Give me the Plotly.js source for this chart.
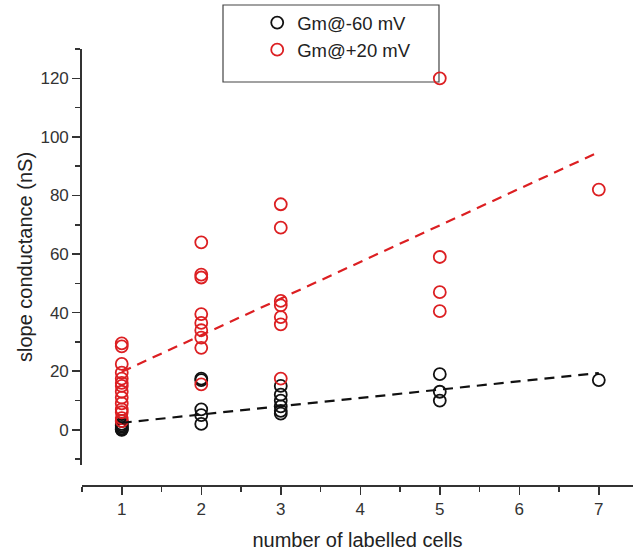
<!DOCTYPE html>
<html>
<head>
<meta charset="utf-8">
<script src="https://cdn.plot.ly/plotly-3.0.1.min.js"></script>
<style>html,body{margin:0;padding:0;background:#fff;}</style>
</head>
<body>
<div id="chart" style="width:633px;height:552px;"></div>
<script>
// ---- data ----
const seriesNames = ["Gm@-60 mV", "Gm@+20 mV"];

const blackX = [1,1,1,1,1,1,1, 2,2,2,2,2, 3,3,3,3,3,3, 5,5,5, 7];
const blackY = [3,2,1.5,1,0.5,0.2,0, 17.5,17,7,5,2, 15,12,10,8,6.5,5.5, 19,13,10, 17];

const redX = [1,1,1,1,1,1,1,1,1,1,1,1,1,1, 2,2,2,2,2,2,2,2,2, 3,3,3,3,3,3,3, 5,5,5,5, 7];
const redY = [29.5,28.5,22.5,19.5,17.5,16,15,13,11,9,7,6,4,3,
              64,53,52,39.5,36.5,34,31.5,28,15.5,
              77,69,44,42.5,38.5,36,17.5,
              120,59,47,40.5, 82];

const fitX = [1, 7];
const blackFit = [2.4, 19.4];
const redFit = [19.8, 94.8];

const xTickVals = [1,2,3,4,5,6,7];
const yTickVals = [0,20,40,60,80,100,120];

const RED = "#dc1f22";
const BLACK = "#111111";

const traces = [
  {x: blackX, y: blackY, type: "scatter", mode: "markers", name: seriesNames[0],
   marker: {symbol: "circle-open", size: 12, color: BLACK, line: {width: 1.8, color: BLACK}}},
  {x: redX, y: redY, type: "scatter", mode: "markers", name: seriesNames[1],
   marker: {symbol: "circle-open", size: 12, color: RED, line: {width: 1.8, color: RED}}},
  {x: fitX, y: blackFit, type: "scatter", mode: "lines", showlegend: false,
   line: {color: BLACK, width: 2.2, dash: "10px,7px"}, hoverinfo: "skip"},
  {x: fitX, y: redFit, type: "scatter", mode: "lines", showlegend: false,
   line: {color: RED, width: 2.2, dash: "10px,7px"}, hoverinfo: "skip"}
];

const fontFam = "Liberation Sans, Arial, sans-serif";

const layout = {
  width: 633, height: 552,
  margin: {l: 82, r: 0, t: 49, b: 67, pad: 0},
  paper_bgcolor: "#fff", plot_bgcolor: "#fff",
  font: {family: fontFam, color: "#222"},
  showlegend: true,
  legend: {
    x: 0.318, y: 1.103, xanchor: "left", yanchor: "top",
    bgcolor: "rgba(0,0,0,0)", borderwidth: 0,
    font: {family: fontFam, size: 18.5, color: "#222"},
    tracegroupgap: 0
  },
  shapes: [{
    type: "rect", xref: "paper", yref: "paper",
    x0: 0.2559, x1: 0.6479, y0: 0.9243, y1: 1.1009,
    line: {color: "#444", width: 1.2}, fillcolor: "rgba(0,0,0,0)", layer: "below"
  }],
  xaxis: {
    range: [0.5, 7.43], anchor: "free", position: 0,
    showgrid: false, zeroline: false,
    showline: true, linecolor: "#333", linewidth: 1.8,
    ticks: "outside", ticklen: 8, tickwidth: 1.5, tickcolor: "#333",
    tickvals: xTickVals, ticktext: xTickVals.map(String),
    tickfont: {family: fontFam, size: 17, color: "#333"},
    minor: {ticks: "outside", ticklen: 5, tickwidth: 1.5, tickcolor: "#333", dtick: 0.5, tick0: 0.5, showgrid: false},
    title: {text: "number of labelled cells", font: {family: fontFam, size: 20, color: "#222"}, standoff: 15}
  },
  yaxis: {
    range: [-12, 130], domain: [0.0459, 1],
    showgrid: false, zeroline: false,
    showline: true, linecolor: "#333", linewidth: 1.8,
    ticks: "outside", ticklen: 8, tickwidth: 1.5, tickcolor: "#333",
    tickvals: yTickVals, ticktext: yTickVals.map(String),
    tickfont: {family: fontFam, size: 17, color: "#333"},
    minor: {ticks: "outside", ticklen: 5, tickwidth: 1.5, tickcolor: "#333", dtick: 10, tick0: 0, showgrid: false},
    title: {text: "slope conductance (nS)", font: {family: fontFam, size: 20, color: "#222"}, standoff: 2}
  }
};

Plotly.newPlot("chart", traces, layout, {displayModeBar: false, staticPlot: true});
</script>
</body>
</html>
